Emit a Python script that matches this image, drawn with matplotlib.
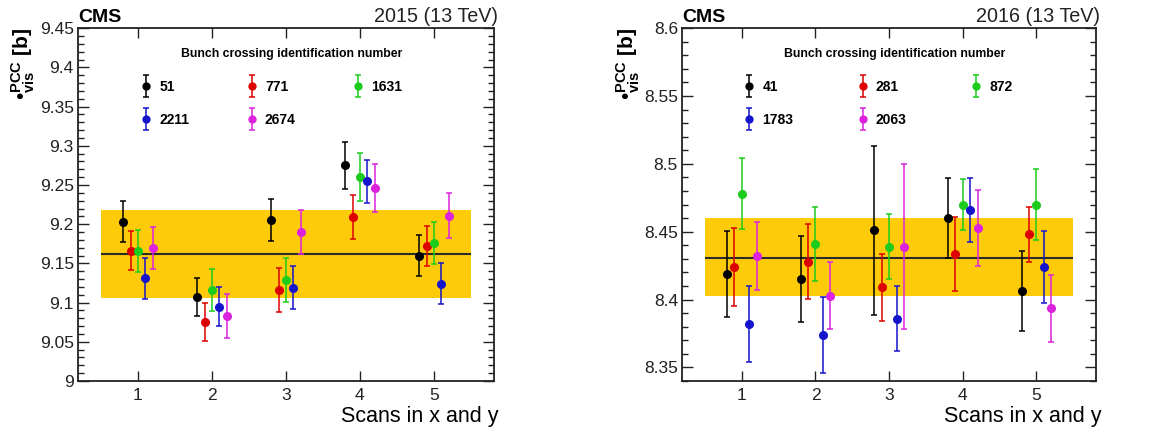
import matplotlib
matplotlib.use('Agg')
import matplotlib.pyplot as plt
from matplotlib.container import ErrorbarContainer
from matplotlib.legend_handler import HandlerErrorbar
from matplotlib.ticker import MultipleLocator, FuncFormatter

plt.rcParams['font.family'] = ['Liberation Sans', 'DejaVu Sans']
plt.rcParams['mathtext.fontset'] = 'custom'
plt.rcParams['mathtext.rm'] = 'Liberation Sans'
plt.rcParams['mathtext.it'] = 'Liberation Sans:italic'
plt.rcParams['mathtext.bf'] = 'Liberation Sans:bold'

scans = [1, 2, 3, 4, 5]
colors = ['#000000', '#dd0000', '#1ccc1c', '#1414cc', '#dd22dd']

# 2015 fill: bunch crossings, sigma_vis per scan, errors
bx_2015 = ['51', '771', '1631', '2211', '2674']
vals_2015 = [
    [9.203, 9.107, 9.205, 9.275, 9.160],
    [9.166, 9.075, 9.116, 9.209, 9.172],
    [9.166, 9.116, 9.129, 9.260, 9.176],
    [9.131, 9.095, 9.119, 9.255, 9.124],
    [9.170, 9.083, 9.190, 9.2465, 9.211],
]
errs_2015 = [
    [0.026, 0.0245, 0.027, 0.0295, 0.026],
    [0.025, 0.0245, 0.0285, 0.028, 0.0255],
    [0.0265, 0.027, 0.028, 0.031, 0.027],
    [0.0258, 0.025, 0.0278, 0.0275, 0.026],
    [0.027, 0.0285, 0.0285, 0.0305, 0.029],
]
mean_2015 = 9.162
band_2015 = (9.106, 9.218)

# 2016 fill
bx_2016 = ['41', '281', '872', '1783', '2063']
vals_2016 = [
    [8.4185, 8.415, 8.451, 8.460, 8.4065],
    [8.424, 8.428, 8.409, 8.4335, 8.448],
    [8.478, 8.441, 8.439, 8.470, 8.470],
    [8.382, 8.3736, 8.386, 8.466, 8.424],
    [8.432, 8.403, 8.439, 8.453, 8.3935],
]
errs_2016 = [
    [0.0317, 0.0315, 0.0625, 0.0295, 0.0295],
    [0.0285, 0.0275, 0.0245, 0.027, 0.0205],
    [0.026, 0.027, 0.024, 0.0187, 0.026],
    [0.028, 0.028, 0.024, 0.0236, 0.0265],
    [0.025, 0.0245, 0.061, 0.028, 0.0245],
]
mean_2016 = 8.431
band_2016 = (8.403, 8.460)

offsets = [-0.2, -0.1, 0.0, 0.1, 0.2]


def draw_panel(ax, year, bx, vals, errs, mean, band, ylim, leg_x, colsp):
    ax.fill_between([0.5, 5.5], band[0], band[1], color='#fecb0a', lw=0, zorder=1)
    ax.hlines(mean, 0.5, 5.5, color='#2b2b2b', lw=1.5, zorder=2)
    handles = []
    for i in range(len(bx)):
        xs = [s + offsets[i] for s in scans]
        h = ax.errorbar(xs, vals[i], yerr=errs[i], fmt='o', color=colors[i],
                        ms=5.5, elinewidth=1.1, capsize=2.2, capthick=1.1,
                        label=bx[i], zorder=3)
        handles.append(h)

    # legend, filled row by row like the original
    order = [0, 3, 1, 4, 2]
    ax.legend([handles[k] for k in order], [bx[k] for k in order],
              ncol=3, loc='upper left', bbox_to_anchor=(leg_x, 0.854),
              frameon=False, borderpad=0, borderaxespad=0,
              prop={'weight': 'bold', 'size': 10},
              handlelength=1.0, handletextpad=0.45, columnspacing=colsp,
              labelspacing=1.37, markerscale=0.9,
              handler_map={ErrorbarContainer: HandlerErrorbar(yerr_size=0.8)})
    ax.text(0.514, 0.928, 'Bunch crossing identification number', transform=ax.transAxes,
            fontsize=8.8, fontweight='bold', ha='center', va='center')

    ax.set_xlim(0.19, 5.81)
    ax.set_ylim(*ylim)
    ax.set_xticks(scans)
    ax.yaxis.set_major_locator(MultipleLocator(0.05))
    ax.yaxis.set_minor_locator(MultipleLocator(0.01))
    ax.yaxis.set_major_formatter(FuncFormatter(lambda v, p: '%g' % round(v, 3)))
    ax.tick_params(axis='both', which='both', direction='in', top=True, right=True,
                   labelsize=12.5, colors='#222222')
    ax.tick_params(axis='y', which='major', length=8, width=1, pad=3)
    ax.tick_params(axis='y', which='minor', length=4.5, width=1)
    ax.tick_params(axis='x', which='major', length=7, width=1, pad=5)
    for sp in ax.spines.values():
        sp.set_linewidth(1.3)
        sp.set_color('#222222')

    ax.set_xlabel('Scans in x and y', fontsize=15.5, loc='right')
    ax.xaxis.set_label_coords(1.012, -0.07)
    ax.set_ylabel('$\u2022^{\\mathbf{PCC}}_{\\mathbf{vis}}$ [b]', fontsize=15,
                  fontweight='bold', loc='top')
    ax.yaxis.set_label_coords(-0.098, 1.0)

    ax.text(0.0, 1.018, 'CMS', transform=ax.transAxes, fontsize=14,
            fontweight='bold', va='baseline', ha='left')
    ax.text(1.01, 1.018, year + ' (13 TeV)', transform=ax.transAxes, fontsize=14.2,
            va='baseline', ha='right', color='#222222')


fig = plt.figure(figsize=(11.68, 4.34), dpi=100)
ax1 = fig.add_axes([0.0668, 0.1221, 0.356, 0.813])
ax2 = fig.add_axes([0.584, 0.1221, 0.3545, 0.813])

draw_panel(ax1, '2015', bx_2015, vals_2015, errs_2015, mean_2015, band_2015,
           (9.0, 9.45), 0.147, 4.0)
draw_panel(ax2, '2016', bx_2016, vals_2016, errs_2016, mean_2016, band_2016,
           (8.34, 8.6), 0.145, 4.5)

fig.savefig('out.png', dpi=100)
